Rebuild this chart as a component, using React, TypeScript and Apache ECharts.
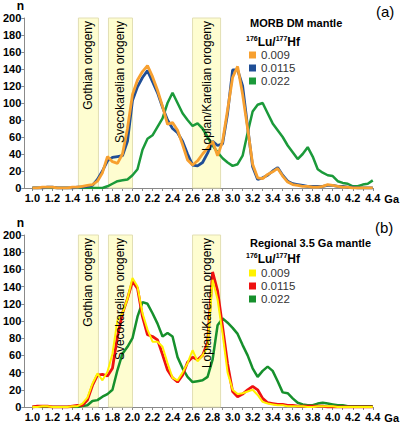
import React, { useEffect, useRef } from "react";
import * as echarts from "echarts";

const AGES = [
  1.0, 1.05, 1.1, 1.15, 1.2, 1.25, 1.3, 1.35, 1.4, 1.45,
  1.5, 1.55, 1.6, 1.65, 1.7, 1.75, 1.8, 1.85, 1.9, 1.95,
  2.0, 2.05, 2.1, 2.15, 2.2, 2.25, 2.3, 2.35, 2.4, 2.45,
  2.5, 2.55, 2.6, 2.65, 2.7, 2.75, 2.8, 2.85, 2.9, 2.95,
  3.0, 3.05, 3.1, 3.15, 3.2, 3.25, 3.3, 3.35, 3.4, 3.45,
  3.5, 3.55, 3.6, 3.65, 3.7, 3.75, 3.8, 3.85, 3.9, 3.95,
  4.0, 4.05, 4.1, 4.15, 4.2, 4.25, 4.3, 4.35, 4.4,
];

// Panel (a) MORB DM mantle
const A_009 = [
  0, 0, 1, 1, 1, 0, 0, 0, 1, 1,
  2, 3, 4, 8, 18, 37, 31, 29, 40, 70,
  110, 127, 137, 144, 131, 115, 96, 75, 77, 68,
  51, 33, 27, 32, 40, 47, 55, 38, 55, 92,
  130, 143, 110, 70, 28, 12, 11, 16, 19, 23,
  14, 7, 4, 3, 2, 2, 1, 1, 2, 4,
  3, 2, 1, 1, 0, 0, 0, 0, 0,
];
const A_0115 = [
  0, 0, 0, 1, 1, 0, 0, 0, 0, 1,
  1, 2, 3, 10, 20, 32, 36, 37, 38, 55,
  103, 119, 130, 138, 125, 112, 95, 80, 70, 65,
  55, 40, 27, 26, 30, 41, 55, 50, 52, 88,
  139, 139, 120, 72, 25, 10, 12, 15, 20, 24,
  15, 8, 5, 4, 3, 2, 2, 2, 2, 3,
  3, 2, 2, 1, 1, 0, 0, 0, 0,
];
const A_022 = [
  0, 0, 0, 0, 0, 0, 0, 0, 0, 0,
  0, 0, 0, 0, 0, 2, 5, 8, 9, 10,
  15, 22, 45, 58, 62, 72, 82, 100, 112, 100,
  88, 80, 73, 76, 70, 60, 50, 42, 35, 30,
  26, 28, 38, 65, 90, 98, 100, 88, 76, 68,
  60, 50, 42, 34, 40, 48, 37, 22, 18, 15,
  14, 8, 6, 5, 2, 2, 4, 5, 9,
];

// Panel (b) Regional 3.5 Ga mantle
const B_009 = [
  0, 0, 1, 1, 0, 0, 0, 0, 1, 1,
  4, 11, 27, 39, 31, 41, 62, 101, 109, 126,
  150, 140, 109, 90, 76, 76, 70, 51, 34, 31,
  40, 51, 66, 53, 60, 70, 148, 125, 85, 40,
  20, 15, 16, 18, 20, 14, 6, 4, 3, 2,
  2, 1, 1, 1, 1, 0, 0, 1, 1, 1,
  1, 0, 0, 0, 0, 0, 0, 0, 0,
];
const B_0115 = [
  0, 1, 1, 1, 0, 0, 0, 0, 1, 2,
  2, 8, 25, 37, 38, 36, 45, 82, 109, 126,
  146, 138, 105, 84, 82, 78, 61, 43, 34, 29,
  37, 52, 58, 55, 60, 75, 157, 135, 93, 50,
  18, 12, 15, 20, 24, 20, 10, 5, 4, 3,
  3, 2, 2, 1, 1, 1, 1, 1, 1, 0,
  0, 0, 0, 0, 0, 0, 0, 0, 0,
];
const B_022 = [
  0, 0, 0, 0, 0, 0, 0, 0, 0, 0,
  1, 2, 7, 8, 12, 15, 20, 43, 62, 70,
  80, 105, 122, 120, 109, 97, 82, 86, 82, 58,
  45, 35, 29, 30, 31, 35, 55, 95, 103, 98,
  92, 85, 72, 60, 45, 35, 42, 47, 42, 30,
  17, 16, 10, 5, 3, 2, 2, 4, 5, 4,
  3, 2, 2, 1, 1, 1, 1, 1, 1,
];

const X_LABELS = [1.0, 1.2, 1.4, 1.6, 1.8, 2.0, 2.2, 2.4, 2.6, 2.8, 3.0, 3.2, 3.4, 3.6, 3.8, 4.0, 4.2, 4.4];
const X_TICKS = [
  1.0, 1.1, 1.2, 1.3, 1.4, 1.5, 1.6, 1.7, 1.8, 1.9, 2.0, 2.1, 2.2, 2.3, 2.4, 2.5, 2.6, 2.7,
  2.8, 2.9, 3.0, 3.1, 3.2, 3.3, 3.4, 3.5, 3.6, 3.7, 3.8, 3.9, 4.0, 4.1, 4.2, 4.3, 4.4,
];
const BAND_NAMES = ["Gothian orogeny", "Svecokarelian orogeny", "Lopian/Karelian orogeny"];
const BAND_FROM = [1.46, 1.76, 2.6];
const BAND_TO = [1.66, 2.0, 2.88];
const LEGEND_LABELS = ["0.009", "0.0115", "0.022"];

const FONT = "'Liberation Sans', Arial, sans-serif";

function pairs(vals: number[]) {
  return AGES.map((a, i) => [a, vals[i]]);
}

function makeAxes(gridIndex: number) {
  const x = {
    type: "value",
    gridIndex,
    min: 0.92,
    max: 4.4,
    name: "Ga",
    nameLocation: "end",
    nameGap: 1,
    nameTextStyle: {
      fontFamily: FONT,
      fontWeight: "bold",
      fontSize: 11,
      color: "#000",
      verticalAlign: "top",
      padding: [5, 0, 0, 0],
    },
    splitLine: { show: false },
    axisLine: { show: true, onZero: false, lineStyle: { color: "#8a8a8a", width: 1 } },
    axisTick: { show: true, length: 3, customValues: X_TICKS, lineStyle: { color: "#8a8a8a" } },
    axisLabel: {
      customValues: X_LABELS,
      formatter: (v: number) => v.toFixed(1),
      fontFamily: FONT,
      fontWeight: "bold",
      fontSize: 11,
      color: "#000",
      margin: 4,
    },
  };
  const y = {
    type: "value",
    gridIndex,
    min: 0,
    max: 200,
    interval: 20,
    name: "n",
    nameLocation: "end",
    nameGap: 6,
    nameTextStyle: {
      fontFamily: FONT,
      fontWeight: "bold",
      fontSize: 12,
      color: "#000",
      padding: [0, 8, 0, 0],
    },
    splitLine: { show: false },
    axisLine: { show: true, lineStyle: { color: "#8a8a8a", width: 1 } },
    axisTick: { show: true, length: 3, lineStyle: { color: "#8a8a8a" } },
    axisLabel: {
      fontFamily: FONT,
      fontWeight: "bold",
      fontSize: 11,
      color: "#000",
      margin: 3,
    },
  };
  return { x, y };
}

function bandAreas() {
  return BAND_NAMES.map((n, i) => [{ name: n, xAxis: BAND_FROM[i] }, { xAxis: BAND_TO[i] }]);
}

function bandFillSeries(idx: number) {
  return {
    type: "line",
    name: "bands" + idx,
    xAxisIndex: idx,
    yAxisIndex: idx,
    data: [],
    silent: true,
    markArea: {
      silent: true,
      z: 1,
      itemStyle: { color: "#FEFDD0", borderColor: "#E2DFB4", borderWidth: 1 },
      label: { show: false },
      data: bandAreas(),
    },
  };
}

function bandLabelSeries(idx: number) {
  return {
    type: "line",
    name: "bandlabels" + idx,
    xAxisIndex: idx,
    yAxisIndex: idx,
    data: [],
    silent: true,
    z: 10,
    markArea: {
      silent: true,
      z: 10,
      itemStyle: { color: "rgba(0,0,0,0)", borderWidth: 0 },
      label: {
        show: true,
        position: "insideTop",
        distance: 3,
        rotate: 90,
        align: "right",
        verticalAlign: "middle",
        color: "#000",
        fontFamily: FONT,
        fontSize: 12,
      },
      data: bandAreas(),
    },
  };
}

function lineSeries(name: string, idx: number, vals: number[], color: string, width: number) {
  return {
    type: "line",
    name,
    xAxisIndex: idx,
    yAxisIndex: idx,
    data: pairs(vals),
    showSymbol: false,
    symbol: "none",
    z: 3,
    lineStyle: { color, width },
    itemStyle: { color },
  };
}

function legendFor(prefix: string, top: number) {
  return {
    left: 249,
    top,
    orient: "vertical",
    icon: "rect",
    itemWidth: 7,
    itemHeight: 7,
    itemGap: 1,
    padding: 0,
    selectedMode: false,
    formatter: (n: string) => n.split("|")[1],
    textStyle: { fontFamily: FONT, fontSize: 11.5, lineHeight: 11, color: "#333" },
    data: LEGEND_LABELS.map((l) => prefix + "|" + l),
  };
}

export default function App() {
  const ref = useRef<HTMLDivElement>(null);
  useEffect(() => {
    document.body.style.margin = "0";
    if (!ref.current) return;
    const chart = echarts.init(ref.current, null, { renderer: "svg" });
    const a = makeAxes(0);
    const b = makeAxes(1);
    const cA = ["#F7A030", "#1F4E96", "#1B9A3A"];
    const cB = ["#FFF200", "#EE1111", "#16902C"];
    const supRich = {
      s: { fontFamily: FONT, fontWeight: "bold", fontSize: 7, verticalAlign: "top", padding: [0, 0, 6, 0] },
      b: { fontFamily: FONT, fontWeight: "bold", fontSize: 12 },
    };
    const option = {
      animation: false,
      grid: [
        { left: 22, right: 26, top: 18, height: 170 },
        { left: 22, right: 26, top: 235, height: 172 },
      ],
      xAxis: [a.x, b.x],
      yAxis: [a.y, b.y],
      legend: [legendFor("a", 49), legendFor("b", 267)],
      graphic: [
        {
          type: "text",
          left: 250,
          top: 17,
          style: { text: "MORB DM mantle", fontFamily: FONT, fontWeight: "bold", fontSize: 11, fill: "#000" },
        },
        {
          type: "text",
          left: 246,
          top: 35,
          style: { text: "{s|176}{b|Lu/}{s|177}{b|Hf}", rich: supRich, fill: "#000" },
        },
        {
          type: "text",
          left: 376,
          top: 4,
          style: { text: "(a)", fontFamily: FONT, fontSize: 15, fill: "#000" },
        },
        {
          type: "text",
          left: 250,
          top: 237,
          style: { text: "Regional 3.5 Ga mantle", fontFamily: FONT, fontWeight: "bold", fontSize: 11, fill: "#000" },
        },
        {
          type: "text",
          left: 246,
          top: 252,
          style: { text: "{s|176}{b|Lu/}{s|177}{b|Hf}", rich: supRich, fill: "#000" },
        },
        {
          type: "text",
          left: 375,
          top: 220,
          style: { text: "(b)", fontFamily: FONT, fontSize: 15, fill: "#000" },
        },
      ],
      series: [
        bandFillSeries(0),
        lineSeries("a|0.022", 0, A_022, cA[2], 2.5),
        lineSeries("a|0.0115", 0, A_0115, cA[1], 2.8),
        lineSeries("a|0.009", 0, A_009, cA[0], 2.8),
        bandLabelSeries(0),
        bandFillSeries(1),
        lineSeries("b|0.022", 1, B_022, cB[2], 2.5),
        lineSeries("b|0.0115", 1, B_0115, cB[1], 2.8),
        lineSeries("b|0.009", 1, B_009, cB[0], 2),
        bandLabelSeries(1),
      ],
    };
    chart.setOption(option as any);
    return () => chart.dispose();
  }, []);
  return <div ref={ref} style={{ width: 400, height: 424 }} />;
}
